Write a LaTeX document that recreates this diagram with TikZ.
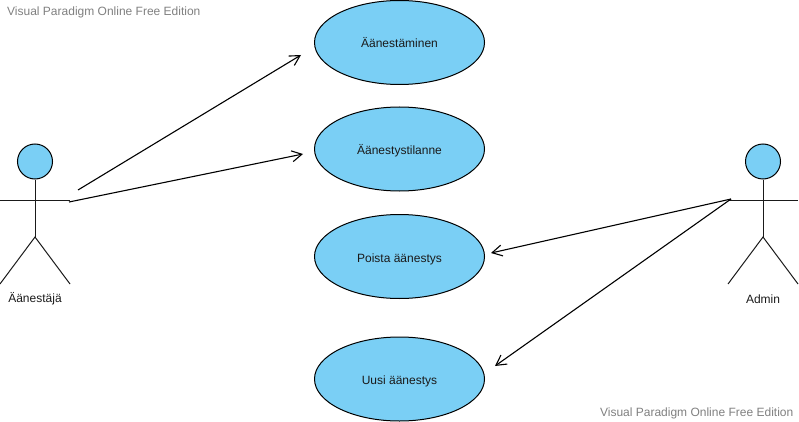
\documentclass[tikz,border=0pt]{standalone}
\usepackage{fontspec}
\setmainfont{Liberation Sans}
\usetikzlibrary{shapes.geometric,arrows.meta}
\definecolor{fillblue}{HTML}{7ACFF5}
\definecolor{wm}{HTML}{808080}
\definecolor{ink}{HTML}{1A1A1A}
\tikzset{
  usecase/.style={ellipse,draw=black,line width=1pt,fill=fillblue,minimum width=170pt,minimum height=84pt,inner sep=0pt,text=ink,text height=11pt,text depth=0pt,font=\fontsize{12}{14}\selectfont},
  head/.style={circle,draw=black,line width=1pt,fill=fillblue,minimum size=35pt,inner sep=0pt},
  limb/.style={draw=ink,line width=1pt},
  assoc/.style={draw=black,line width=1.1pt,-{Straight Barb[length=10pt,width=11pt,line width=1.1pt]}},
  lbl/.style={text=ink,font=\fontsize{12}{14}\selectfont,inner sep=0pt},
  mark text/.style={text=wm,font=\fontsize{12}{14}\selectfont,inner sep=0pt}
}
\begin{document}
\begin{tikzpicture}[x=1pt,y=-1pt]
\useasboundingbox (0,0) rectangle (799,422);
\node[mark text,anchor=west] (wm1) at (7,12) {Visual Paradigm Online Free Edition};
\node[mark text,anchor=east] (wm2) at (793.5,413) {Visual Paradigm Online Free Edition};
\node[usecase] (u1) at (399.5,42.5) {Äänestäminen};
\node[usecase] (u2) at (399.5,149) {Äänestystilanne};
\node[usecase] (u3) at (399.5,256.5) {Poista äänestys};
\node[usecase] (u4) at (399.5,379) {Uusi äänestys};
% left actor
\node[head] (h1) at (35,161.5) {};
\coordinate (hipa) at (35,237);
\coordinate (la1) at (0,200);
\coordinate (ra1) at (70,200);
\coordinate (lf1) at (0,284);
\coordinate (rf1) at (70,284);
\draw[limb] (h1.south) -- (hipa);
\draw[limb] (la1) -- (ra1);
\draw[limb] (lf1) -- (hipa) -- (rf1);
\node[lbl] (l1) at (35,299) {Äänestäjä};
% right actor
\node[head] (h2) at (763,161.5) {};
\coordinate (hipb) at (763,237);
\coordinate (la2) at (728,200);
\coordinate (ra2) at (798,200);
\coordinate (lf2) at (728,284);
\coordinate (rf2) at (798,284);
\draw[limb] (h2.south) -- (hipb);
\draw[limb] (la2) -- (ra2);
\draw[limb] (lf2) -- (hipb) -- (rf2);
\node[lbl] (l2) at (763,299) {Admin};
% connectors
\coordinate (s1) at (78,190);
\coordinate (e1) at (301,55);
\coordinate (s2) at (69,202);
\coordinate (e2) at (303,154);
\coordinate (s3) at (731,199);
\coordinate (e3) at (491,253);
\coordinate (e4) at (495,366);
\draw[assoc] (s1) -- (e1);
\draw[assoc] (s2) -- (e2);
\draw[assoc] (s3) -- (e3);
\draw[assoc] (s3) -- (e4);
\end{tikzpicture}
\end{document}
